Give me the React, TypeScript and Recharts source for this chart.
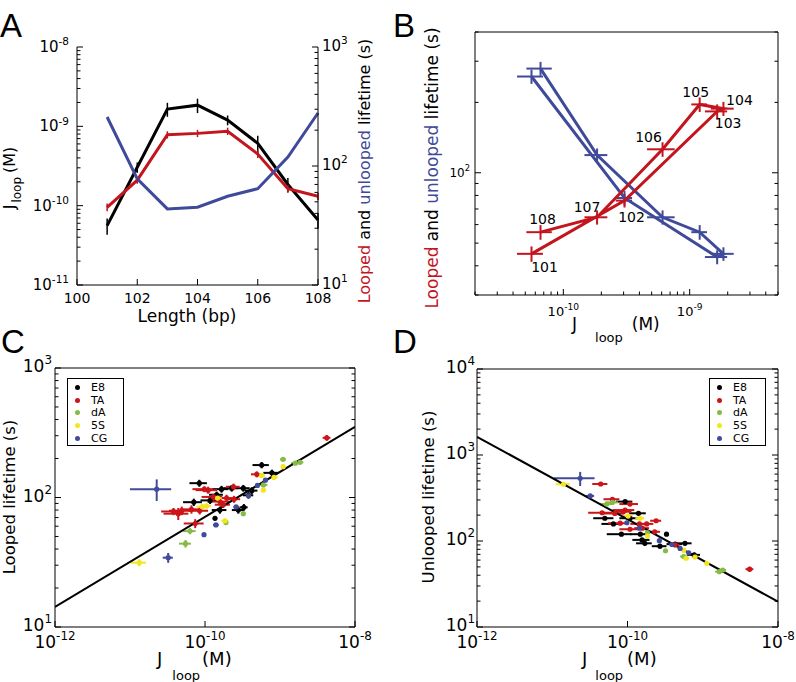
import {
  ComposedChart, ScatterChart, Line, Scatter, XAxis, YAxis, ErrorBar, Label, Legend,
} from 'recharts'

const FONT = '"DejaVu Sans", Verdana, sans-serif'
const RED = '#C3151E'
const BLUE = '#3F4A9A'

// A / B: loop length sweep
const LENGTHS = [101, 102, 103, 104, 105, 106, 107, 108]
const J_LOOP = [5.6e-11, 3.05e-10, 1.65e-9, 1.85e-9, 1.2e-9, 6.1e-10, 1.85e-10, 6.6e-11]
const J_ERR = [1.3e-11, 4.5e-11, 3.3e-10, 3.8e-10, 1.7e-10, 1.5e-10, 3.8e-11, 1.5e-11]
const LOOPED = [45, 76, 183, 188, 196, 126, 64.5, 55.7]
const LOOPED_ERR = [3.4, 5, 13, 13, 14, 9, 4.5, 4]
const UNLOOPED = [258, 78, 43.6, 45, 55.7, 64.5, 119, 279]
const UNLOOPED_ERR = [18, 5.5, 3, 3, 4, 4.5, 8, 19]

// tick labels
const A_X_TICKS = [100, 102, 104, 106, 108]
const A_J_LABELS = [1e-11, 1e-10, 1e-9, 1e-8]
const A_T_LABELS = [10, 100, 1000]
const B_X_LABELS = [1e-10, 1e-9]
const B_Y_LABELS = [100]
const CD_X_TICKS = [1e-12, 1e-10, 1e-8]
const C_Y_LABELS = [10, 100, 1000]
const D_Y_LABELS = [10, 100, 1000, 10000]

// C / D: [J_loop, lifetime, J err, lifetime err]
const C_E8 = [
  [5.7e-10, 178, 1.4e-10, 10], [7.8e-10, 155, 1.8e-10, 9], [8.4e-11, 129, 2.2e-11, 8],
  [1.66e-10, 116, 4e-11, 7], [2.27e-10, 118, 5e-11, 7], [3.24e-10, 118, 7e-11, 7],
  [4.2e-10, 113, 8e-11, 7], [7.1e-11, 92, 2e-11, 6], [1.17e-10, 95, 3e-11, 6],
  [1.43e-10, 105, 3e-11, 6], [1.36e-10, 69, 0, 0], [1.58e-10, 80, 3.5e-11, 5],
  [2.78e-10, 80, 5e-11, 5], [3.3e-10, 84, 4e-11, 5], [3.8e-10, 104, 6e-11, 6],
]
const C_TA = [
  [4.2e-9, 289, 5e-10, 15], [4.9e-10, 151, 8e-11, 8], [2.4e-10, 121, 5e-11, 7],
  [1.1e-10, 114, 3.5e-11, 7], [1.3e-10, 101, 4e-11, 6], [1.58e-10, 93, 5e-11, 6],
  [1.94e-10, 99, 5e-11, 6], [2.44e-10, 97, 5e-11, 6], [4.4e-11, 75, 1.6e-11, 8],
  [4.9e-11, 79, 1.6e-11, 6], [6.6e-11, 81, 2e-11, 6], [8.5e-11, 79, 2.5e-11, 5],
  [7.4e-11, 63, 2.2e-11, 5], [3.8e-11, 78, 1.2e-11, 5], [1.75e-10, 88, 4e-11, 5],
  [9.8e-11, 116, 3e-11, 6],
]
const C_DA = [
  [5.5e-11, 44, 1e-11, 3], [6.3e-11, 55, 1.2e-11, 3], [1.9e-10, 64, 0, 0],
  [3.24e-10, 75, 0, 0], [6.0e-10, 125, 8e-11, 5], [1.1e-9, 197, 1e-10, 6],
  [1.6e-9, 184, 2e-10, 6], [1.85e-9, 187, 2e-10, 6],
]
const C_5S = [
  [1.33e-11, 31.4, 3e-12, 2], [1.85e-10, 66, 2e-11, 3], [1.05e-10, 86, 1.5e-11, 4],
  [1.47e-10, 99, 2e-11, 4], [6.0e-10, 114, 0, 0], [5.7e-10, 148, 6e-11, 5],
  [8.3e-10, 143, 1e-10, 5], [1.1e-9, 173, 0, 0], [9.2e-11, 85, 1.5e-11, 4],
]
const C_CG = [
  [2.27e-11, 116, 1.27e-11, 22], [3.23e-11, 34.3, 5e-12, 3], [9.7e-11, 51.6, 0, 0],
  [1.4e-10, 61.4, 1.2e-11, 2], [2.6e-10, 84.5, 2e-11, 3], [3.8e-10, 103, 2e-11, 3],
  [5.0e-10, 124, 0, 0], [6.4e-10, 136, 0, 0],
]
const D_E8 = [
  [9.3e-11, 287, 2.3e-11, 12], [1.4e-10, 210, 3.5e-11, 10], [1.08e-10, 184, 3e-11, 8],
  [5.0e-11, 184, 1.5e-11, 8], [6.5e-11, 158, 2e-11, 7], [8.3e-11, 120, 3e-11, 6],
  [1.48e-10, 120, 4e-11, 6], [1.56e-10, 103, 4e-11, 5], [1.7e-10, 94, 4e-11, 5],
  [3.3e-10, 120, 0, 0], [2.7e-10, 87, 6e-11, 5], [4.3e-10, 92, 1e-10, 5],
  [5.8e-10, 94, 1.3e-10, 5], [7.7e-10, 69, 1.5e-10, 4],
]
const D_TA = [
  [4.2e-9, 47, 5e-10, 3], [4.4e-11, 460, 1e-11, 20], [6.3e-11, 306, 1.5e-11, 15],
  [1.08e-10, 269, 3e-11, 12], [9.3e-11, 229, 3e-11, 10], [4.6e-11, 213, 1.6e-11, 10],
  [6.8e-11, 209, 2.2e-11, 9], [8.8e-11, 219, 2.5e-11, 9], [8e-11, 161, 2.5e-11, 8],
  [1.44e-10, 158, 3.5e-11, 8], [1.8e-10, 158, 4e-11, 8], [2.4e-10, 172, 4e-11, 8],
  [1.08e-10, 137, 3e-11, 7], [1.58e-10, 141, 3.5e-11, 7], [2.3e-10, 128, 4e-11, 6],
  [4.3e-10, 90, 6e-11, 5],
]
const D_DA = [
  [5.3e-11, 269, 1e-11, 10], [6.3e-11, 281, 1.2e-11, 10], [1.84e-10, 125, 0, 0],
  [3.2e-10, 77, 0, 0], [5.6e-10, 66, 6e-11, 3], [1.66e-9, 44, 2e-10, 2],
  [1.84e-9, 46, 2e-10, 2],
]
const D_5S = [
  [1.41e-11, 457, 3e-12, 15], [1.02e-10, 195, 1.5e-11, 6], [1.47e-10, 184, 2e-11, 6],
  [1.84e-10, 114, 0, 0], [5.6e-10, 78, 0, 0], [6.0e-10, 63, 6e-11, 3],
  [7.9e-10, 65, 8e-11, 3], [1.13e-9, 55, 0, 0],
]
const D_CG = [
  [2.35e-11, 536, 1.3e-11, 100], [3.2e-11, 334, 4e-12, 12], [9.8e-11, 163, 0, 0],
  [1.44e-10, 141, 1.2e-11, 5], [2.65e-10, 101, 0, 0], [3.9e-10, 91, 3e-11, 4],
  [5.0e-10, 82, 0, 0], [6.5e-10, 73, 0, 0],
]
// fitted power laws, endpoints read at 1e-12 and 1e-8
const FIT_C = [[1e-12, 14.3, 0, 0], [1e-8, 351, 0, 0]]
const FIT_D = [[1e-12, 1630, 0, 0], [1e-8, 19.7, 0, 0]]

const SERIES = [
  { name: 'E8', color: '#000000' },
  { name: 'TA', color: '#CC1519' },
  { name: 'dA', color: '#86BB46' },
  { name: '5S', color: '#F2E620' },
  { name: 'CG', color: '#414B9B' },
]
const C_DATA = [C_E8, C_TA, C_DA, C_5S, C_CG]
const D_DATA = [D_E8, D_TA, D_DA, D_5S, D_CG]

const pts = (a: number[][]) => a.map(([j, t, ex, ey]) => ({ j, t, ex, ey }))

const rowsA = LENGTHS.map((len, i) => ({
  len, j: J_LOOP[i], jErr: J_ERR[i], loop: LOOPED[i], loopErr: LOOPED_ERR[i], unloop: UNLOOPED[i],
}))
const loopedB = LENGTHS.map((len, i) => ({ len, j: J_LOOP[i], t: LOOPED[i], ex: J_ERR[i], ey: LOOPED_ERR[i] }))
const unloopedB = LENGTHS.map((len, i) => ({ len, j: J_LOOP[i], t: UNLOOPED[i], ex: J_ERR[i], ey: UNLOOPED_ERR[i] }))

// log axis tick positions (1..9 per decade)
function logTicks(lo: number, hi: number) {
  const out: number[] = []
  for (let d = Math.floor(Math.log10(lo)); d <= Math.ceil(Math.log10(hi)); d++) {
    for (let k = 1; k <= 9; k++) {
      const v = k * Math.pow(10, d)
      if (v >= lo * 0.999 && v <= hi * 1.001) out.push(v)
    }
  }
  return out
}

type Side = 'left' | 'right' | 'top' | 'bottom'
interface TickOpts { side: Side; log?: boolean; show?: number[]; fs?: number; gap?: number; base?: number; pow?: boolean }

function powText(v: number, fs: number) {
  const e = Math.round(Math.log10(v))
  return (
    <>
      10<tspan dy={-fs * 0.45} fontSize={fs * 0.7}>{e < 0 ? '-' + -e : e}</tspan>
    </>
  )
}

const mkTick = (o: TickOpts) => (p: any) => {
  const v: number = p.payload.value
  const { x, y } = p
  const major = !o.log || Math.abs(Math.log10(v) - Math.round(Math.log10(v))) < 1e-6
  const len = major ? 6 : 3.5
  const dx = o.side === 'left' ? len : o.side === 'right' ? -len : 0
  const dy = o.side === 'bottom' ? -len : o.side === 'top' ? len : 0
  const on = (o.show ?? []).some(s => Math.abs(s - v) <= Math.abs(s) * 1e-6)
  const fs = o.fs ?? 14
  const gap = o.gap ?? 5
  const base = o.base ?? fs * 0.34
  let label = null
  if (on) {
    const content = o.pow ? powText(v, fs) : String(v)
    const common = { fontSize: fs, fontFamily: FONT, fill: '#000' }
    if (o.side === 'left') label = <text x={x - gap} y={y + base} textAnchor="end" {...common}>{content}</text>
    else if (o.side === 'right') label = <text x={x + gap} y={y + base} textAnchor="start" {...common}>{content}</text>
    else if (o.side === 'bottom') label = <text x={x} y={y + base} textAnchor="middle" {...common}>{content}</text>
  }
  return (
    <g>
      <line x1={x} y1={y} x2={x + dx} y2={y + dy} stroke="#000" strokeWidth={1} />
      {label}
    </g>
  )
}

const axisBase = { stroke: '#000', tickLine: false, tickSize: 0, tickMargin: 0, interval: 0 as const }

const lifetimeLabel = (x: number, y: number, fs: number) => () => (
  <text transform={`translate(${x},${y}) rotate(-90)`} textAnchor="middle" fontSize={fs} fontFamily={FONT} fill="#000">
    <tspan fill={RED}>Looped</tspan> and <tspan fill={BLUE}>unlooped</tspan> lifetime (s)
  </text>
)

const plainLabel = (text: string, x: number, y: number, fs: number, rotate = false) => () => (
  <text
    transform={rotate ? `translate(${x},${y}) rotate(-90)` : undefined}
    x={rotate ? 0 : x} y={rotate ? 0 : y}
    textAnchor="middle" fontSize={fs} fontFamily={FONT} fill="#000"
  >{text}</text>
)

const jLabel = (x: number, y: number, fs: number, subFs: number, dx1: number, dx2: number, drop: number) => () => (
  <text x={x} y={y} fontSize={fs} fontFamily={FONT} fill="#000">
    J<tspan dx={dx1} dy={drop} fontSize={subFs}>loop</tspan><tspan dx={dx2} dy={-drop}>(M)</tspan>
  </text>
)

const jLabelRotated = () => (
  <text transform="translate(15,178) rotate(-90)" textAnchor="middle" fontSize={16} fontFamily={FONT} fill="#000">
    J<tspan dx={2} dy={6} fontSize={12}>loop</tspan><tspan dx={4} dy={-6}>(M)</tspan>
  </text>
)

const noShape = () => <g />
const dotShape = (color: string) => (p: any) => <circle cx={p.cx} cy={p.cy} r={2.6} fill={color} />

const B_LABEL_OFFSET: Record<number, [number, number]> = {
  101: [13, 13], 102: [7, 16], 103: [11, 12], 104: [16, -9],
  105: [-4, -12], 106: [-14, -12], 107: [-10, -10], 108: [2, -13],
}
const lenLabelShape = (p: any) => {
  const off = B_LABEL_OFFSET[p.payload.len] ?? [0, 0]
  return (
    <text x={p.cx + off[0]} y={p.cy + off[1] + 5} textAnchor="middle" fontSize={14} fontFamily={FONT} fill="#000">
      {p.payload.len}
    </text>
  )
}

function PanelA() {
  return (
    <ComposedChart width={400} height={330} data={rowsA} margin={{ top: 47, right: 0, bottom: 0, left: 0 }}>
      <XAxis
        dataKey="len" type="number" domain={[100, 108]} ticks={A_X_TICKS} height={45} {...axisBase}
        tick={mkTick({ side: 'bottom', show: A_X_TICKS, fs: 14, base: 18 })}
        label={<Label content={plainLabel('Length (bp)', 187, 322, 17)} />}
      />
      <YAxis
        yAxisId="j" type="number" scale="log" domain={[1e-11, 1e-8]} allowDataOverflow
        ticks={logTicks(1e-11, 1e-8)} width={77} {...axisBase}
        tick={mkTick({ side: 'left', log: true, show: A_J_LABELS, pow: true, fs: 15, gap: 8 })}
        label={<Label content={jLabelRotated} />}
      />
      <YAxis
        yAxisId="t" orientation="right" type="number" scale="log" domain={[10, 1000]} allowDataOverflow
        ticks={logTicks(10, 1000)} width={82} {...axisBase}
        tick={mkTick({ side: 'right', log: true, show: A_T_LABELS, pow: true, fs: 15, gap: 4, base: 4 })}
        label={<Label content={lifetimeLabel(370, 171, 16)} />}
      />
      <Line yAxisId="j" dataKey="j" stroke="#000" strokeWidth={3} dot={false} isAnimationActive={false}>
        <ErrorBar dataKey="jErr" direction="y" width={0} stroke="#000" strokeWidth={1.5} />
      </Line>
      <Line yAxisId="t" dataKey="loop" stroke={RED} strokeWidth={3} dot={false} isAnimationActive={false}>
        <ErrorBar dataKey="loopErr" direction="y" width={0} stroke={RED} strokeWidth={1.5} />
      </Line>
      <Line yAxisId="t" dataKey="unloop" stroke={BLUE} strokeWidth={3} dot={false} isAnimationActive={false} />
    </ComposedChart>
  )
}

function PanelB() {
  const xDom: [number, number] = [2e-11, 5e-9]
  const yDom: [number, number] = [30, 400]
  return (
    <ScatterChart width={396} height={345} margin={{ top: 0, right: 0, bottom: 0, left: 0 }}>
      <XAxis
        xAxisId="b" dataKey="j" type="number" scale="log" domain={xDom} allowDataOverflow
        ticks={logTicks(...xDom)} height={50} {...axisBase}
        tick={mkTick({ side: 'bottom', log: true, show: B_X_LABELS, pow: true, fs: 13, base: 21 })}
        label={<Label content={jLabel(172, 330, 17, 13, 18, 9, 12)} />}
      />
      <XAxis
        xAxisId="top" orientation="top" type="number" scale="log" domain={xDom} allowDataOverflow
        ticks={logTicks(...xDom)} height={32} {...axisBase}
        tick={mkTick({ side: 'top', log: true })}
      />
      <YAxis
        yAxisId="l" dataKey="t" type="number" scale="log" domain={yDom} allowDataOverflow
        ticks={logTicks(...yDom)} width={75} {...axisBase}
        tick={mkTick({ side: 'left', log: true, show: B_Y_LABELS, pow: true, fs: 12, gap: 5 })}
        label={<Label content={lifetimeLabel(38, 168, 17)} />}
      />
      <YAxis
        yAxisId="r" orientation="right" type="number" scale="log" domain={yDom} allowDataOverflow
        ticks={logTicks(...yDom)} width={18} {...axisBase}
        tick={mkTick({ side: 'right', log: true })}
      />
      <Scatter
        xAxisId="b" yAxisId="l" data={unloopedB} shape={noShape}
        line={{ stroke: BLUE, strokeWidth: 3 }} isAnimationActive={false}
      >
        <ErrorBar dataKey="ex" direction="x" width={0} stroke={BLUE} strokeWidth={2} />
        <ErrorBar dataKey="ey" direction="y" width={0} stroke={BLUE} strokeWidth={2} />
      </Scatter>
      <Scatter
        xAxisId="b" yAxisId="l" data={loopedB} shape={lenLabelShape}
        line={{ stroke: RED, strokeWidth: 3 }} isAnimationActive={false}
      >
        <ErrorBar dataKey="ex" direction="x" width={0} stroke={RED} strokeWidth={2} />
        <ErrorBar dataKey="ey" direction="y" width={0} stroke={RED} strokeWidth={2} />
      </Scatter>
    </ScatterChart>
  )
}

function LegendBox() {
  return (
    <div style={{
      width: 57, height: 68, boxSizing: 'border-box', border: '1px solid #000', background: '#fff',
      padding: '2px 0 0 7px', fontFamily: FONT, fontSize: 11, color: '#000',
    }}>
      {SERIES.map(s => (
        <div key={s.name} style={{ height: 12.7, display: 'flex', alignItems: 'center' }}>
          <span style={{ width: 5, height: 5, borderRadius: '50%', background: s.color, marginRight: 11 }} />
          <span>{s.name}</span>
        </div>
      ))}
    </div>
  )
}

interface ScatterPanelProps {
  width: number
  data: number[][][]
  fit: number[][]
  yDom: [number, number]
  yLabels: number[]
  yTitle: string
  yTitleX: number
  leftW: number
  rightW: number
  topH: number
  yGap: number
  legendLeft: number
  jx: number
  jdx: number
  mdx: number
}

function ScatterPanel(p: ScatterPanelProps) {
  const xDom: [number, number] = [1e-12, 1e-8]
  return (
    <ScatterChart width={p.width} height={362} margin={{ top: 0, right: 0, bottom: 0, left: 0 }}>
      <XAxis
        xAxisId="b" dataKey="j" type="number" scale="log" domain={xDom} allowDataOverflow
        ticks={CD_X_TICKS} height={55} {...axisBase}
        tick={mkTick({ side: 'bottom', log: true, show: CD_X_TICKS, pow: true, fs: 17, base: 20.5 })}
        label={<Label content={jLabel(p.jx, 345, 18, 13, p.jdx, p.mdx, 15)} />}
      />
      <XAxis
        xAxisId="top" orientation="top" type="number" scale="log" domain={xDom} allowDataOverflow
        ticks={CD_X_TICKS} height={p.topH} {...axisBase}
        tick={mkTick({ side: 'top', log: true })}
      />
      <YAxis
        yAxisId="l" dataKey="t" type="number" scale="log" domain={p.yDom} allowDataOverflow
        ticks={logTicks(...p.yDom)} width={p.leftW} {...axisBase}
        tick={mkTick({ side: 'left', log: true, show: p.yLabels, pow: true, fs: 17, gap: p.yGap, base: 4 })}
        label={<Label content={plainLabel(p.yTitle, p.yTitleX, 177, 16.5, true)} />}
      />
      <YAxis
        yAxisId="r" orientation="right" type="number" scale="log" domain={p.yDom} allowDataOverflow
        ticks={logTicks(...p.yDom)} width={p.rightW} {...axisBase}
        tick={mkTick({ side: 'right', log: true })}
      />
      <Scatter
        xAxisId="b" yAxisId="l" data={pts(p.fit)} shape={noShape} legendType="none"
        line={{ stroke: '#000', strokeWidth: 2 }} isAnimationActive={false}
      />
      {SERIES.map((s, i) => (
        <Scatter
          key={s.name} name={s.name} xAxisId="b" yAxisId="l" data={pts(p.data[i])}
          shape={dotShape(s.color)} fill={s.color} isAnimationActive={false}
        >
          <ErrorBar dataKey="ex" direction="x" width={0} stroke={s.color} strokeWidth={2} />
          <ErrorBar dataKey="ey" direction="y" width={0} stroke={s.color} strokeWidth={2} />
        </Scatter>
      ))}
      <Legend
        layout="horizontal" verticalAlign="middle" align="center"
        wrapperStyle={{ left: p.legendLeft, top: 58, width: 57, height: 68 }}
        content={() => <LegendBox />}
      />
    </ScatterChart>
  )
}

const letter = (ch: string, left: number, top: number) => (
  <div style={{
    position: 'absolute', left, top, fontFamily: '"Liberation Sans", Arial, sans-serif',
    fontSize: 33, lineHeight: '33px', color: '#000',
  }}>{ch}</div>
)

export default function App() {
  return (
    <div style={{ position: 'absolute', left: 0, top: 0, width: 796, height: 682, background: '#fff', overflow: 'hidden' }}>
      <div style={{ position: 'absolute', left: 0, top: 0 }}><PanelA /></div>
      <div style={{ position: 'absolute', left: 400, top: 0 }}><PanelB /></div>
      <div style={{ position: 'absolute', left: 0, top: 320 }}>
        <ScatterPanel
          width={400} data={C_DATA} fit={FIT_C} yDom={[10, 1000]} yLabels={C_Y_LABELS} yTitle="Looped lifetime (s)"
          yTitleX={15} leftW={55} rightW={45} topH={48} yGap={3} legendLeft={67} jx={157} jdx={10} mdx={2}
        />
      </div>
      <div style={{ position: 'absolute', left: 400, top: 320 }}>
        <ScatterPanel
          width={396} data={D_DATA} fit={FIT_D} yDom={[10, 10000]} yLabels={D_Y_LABELS} yTitle="Unlooped lifetime (s)"
          yTitleX={34} leftW={77} rightW={18} topH={49} yGap={2} legendLeft={309} jx={182} jdx={8} mdx={4}
        />
      </div>
      {letter('A', 0, 9)}
      {letter('B', 393, 9)}
      {letter('C', 1, 325)}
      {letter('D', 393, 325)}
    </div>
  )
}
